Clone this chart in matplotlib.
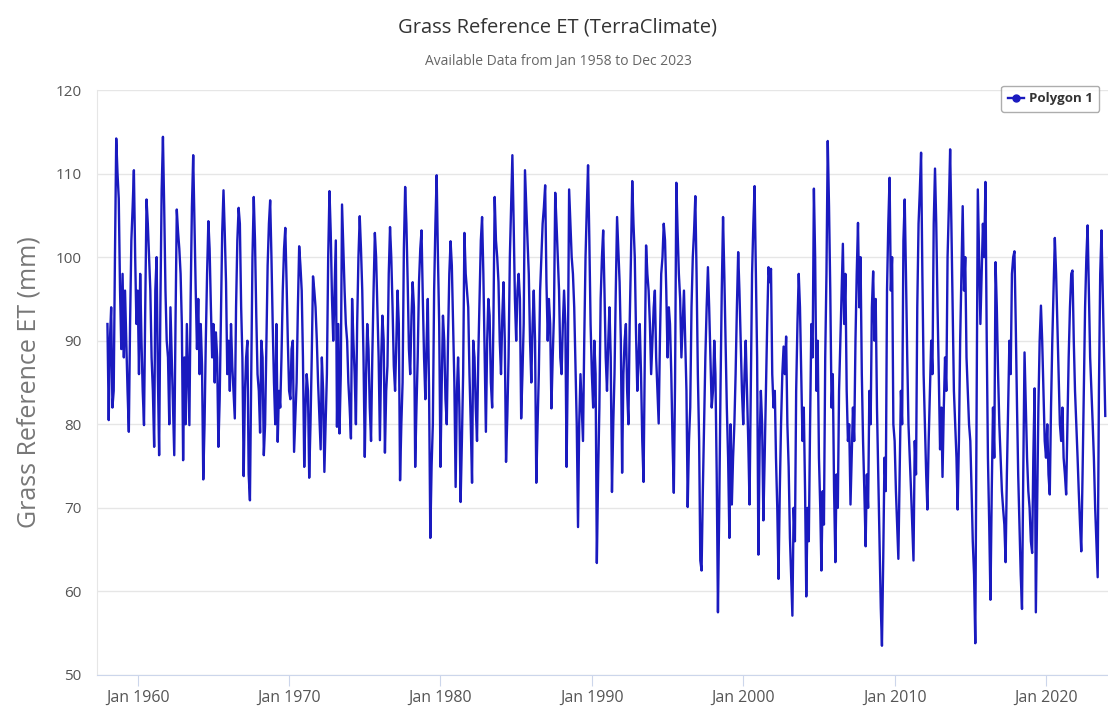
import numpy as np
import pandas as pd
import matplotlib
matplotlib.use('Agg')
import matplotlib.pyplot as plt
import matplotlib.dates as mdates

plt.rcParams['font.family'] = ['Open Sans', 'DejaVu Sans']

# Monthly grass reference ET (mm), Jan..Dec
et_1950s = [
    [92, 80.5, 90, 94, 82, 84, 100, 114.2, 110, 107, 96, 89],
    [98, 88, 96, 90, 84, 79.1, 92, 102, 106, 110.4, 100, 92],
]
et_1960s = [
    [96, 86, 98, 90, 84, 79.9, 94, 106.9, 104, 100, 96, 88],
    [84, 77.3, 96, 100, 86, 76.3, 94, 108, 114.4, 106, 96, 90],
    [88, 80, 94, 88, 82, 76.3, 92, 105.7, 103, 101, 98, 92],
    [75.7, 88, 80, 92, 86, 79.9, 95, 106, 112.2, 104, 96, 89],
    [95, 86, 92, 87, 73.4, 80, 90, 98, 104.3, 101, 94, 88],
    [92, 85, 91, 88, 77.3, 83, 93, 103, 108, 103, 97, 86],
    [90, 84, 92, 87, 84, 80.7, 94, 102, 105.9, 104, 94, 88],
    [73.8, 84, 88, 90, 74, 70.9, 85, 100, 107.2, 102, 93, 86],
    [84, 79, 90, 88, 76.3, 80, 89, 99, 104, 106.8, 100, 92],
    [85, 80, 92, 77.9, 84, 82, 88, 96, 101, 103.5, 97, 90],
]
et_1970s = [
    [84, 83, 89, 90, 76.7, 81, 85, 94, 101.3, 99, 96, 88],
    [74.9, 82, 86, 84, 73.6, 80, 88, 97.7, 96, 94, 90, 85],
    [81, 77, 88, 84, 74.3, 80, 86, 100, 107.9, 103, 95, 90],
    [96, 102, 79.7, 92, 78.9, 86, 106.3, 101, 96, 92, 90, 85],
    [82, 78.3, 95, 90, 86, 80, 92, 100, 104.9, 101, 96, 88],
    [76.1, 86, 92, 89, 82, 78, 88, 96, 102.9, 100, 94, 88],
    [78.1, 88, 93, 90, 76.6, 84, 87, 98, 103.6, 100, 94, 87],
    [84, 90, 96, 92, 73.3, 80, 85, 101, 108.4, 104, 97, 89],
    [86, 93, 97, 94, 74.9, 82, 88, 97, 101, 103.2, 95, 88],
    [83, 90, 95, 84, 66.4, 75, 80, 96, 104, 109.8, 100, 92],
]
et_1980s = [
    [74.9, 85, 93, 90, 83, 80, 90, 98, 101.9, 99, 92, 85],
    [72.5, 84, 88, 82, 70.7, 78, 86, 102.9, 98, 96, 94, 86],
    [80, 73, 90, 88, 82, 78, 88, 95, 102, 104.8, 98, 89],
    [79.1, 90, 95, 93, 85, 82, 92, 107.2, 102, 100, 97, 90],
    [86, 93, 97, 90, 75.5, 81, 88, 100, 106, 112.2, 104, 95],
    [90, 96, 98, 95, 80.7, 86, 92, 110.4, 106, 102, 98, 90],
    [85, 92, 96, 90, 73, 80, 86, 96, 100, 104, 106, 108.6],
    [97, 90, 95, 92, 81.9, 88, 93, 107.7, 104, 100, 96, 88],
    [86, 92, 96, 92, 74.9, 88, 108.1, 104, 100, 98, 94, 87],
    [80, 67.7, 80, 86, 82, 78, 90, 100, 106, 111, 102, 92],
]
et_1990s = [
    [86, 82, 90, 86, 63.4, 74, 82, 95, 100, 103.2, 96, 88],
    [84, 90, 94, 88, 71.9, 80, 86, 96, 104.8, 101, 97, 90],
    [74.2, 86, 90, 92, 84, 80, 92, 100, 109.1, 104, 100, 91],
    [84, 88, 92, 86, 78, 73.1, 88, 101.4, 98, 96, 92, 86],
    [90, 94, 96, 88, 84, 80.1, 90, 98, 100, 104, 102, 96],
    [88, 94, 92, 86, 78, 71.8, 85, 108.9, 103, 98, 95, 88],
    [92, 96, 90, 84, 70.1, 78, 82, 94, 100, 103, 107.3, 98],
    [86, 78, 63.7, 62.5, 72, 80, 88, 94, 98.8, 94, 88, 82],
    [84, 90, 86, 74, 57.5, 70, 84, 96, 104.8, 98, 90, 82],
    [76, 66.4, 80, 70.4, 76, 80, 86, 94, 100.6, 96, 90, 84],
]
et_2000s = [
    [80, 86, 90, 84, 78, 70.4, 84, 98, 104, 108.5, 98, 88],
    [64.4, 78, 84, 80, 68.5, 76, 84, 92, 98.8, 97, 98.6, 86],
    [82, 84, 76, 70, 61.5, 72, 80, 86, 89.3, 86, 90.5, 80],
    [74.9, 66.4, 62, 57.1, 70, 66, 84, 92, 98, 94, 86, 78],
    [82, 72, 59.4, 70, 66, 80, 92, 88, 108.2, 100, 84, 90],
    [76, 70, 62.5, 72, 68, 88, 98, 113.9, 106, 96, 82, 86],
    [72, 63.5, 74, 70, 84, 90, 96, 101.6, 92, 98, 84, 78],
    [80, 70.4, 76, 82, 78, 90, 98, 104.1, 94, 100, 86, 78],
    [72, 65.4, 74, 70, 84, 80, 94, 98.3, 90, 95, 82, 74],
    [66, 58, 53.5, 64, 76, 72, 96, 104, 109.5, 96, 100, 80],
]
et_2010s = [
    [78, 72, 68, 63.9, 74, 84, 80, 102, 106.9, 98, 88, 80],
    [76, 72, 68, 63.7, 78, 74, 94, 104, 108, 112.5, 98, 86],
    [80, 74, 69.8, 78, 84, 90, 86, 104, 110.6, 104, 94, 86],
    [77, 82, 73.7, 82, 88, 84, 100, 106, 112.9, 104, 94, 84],
    [80, 76, 69.8, 78, 90, 98, 106.1, 96, 100, 88, 84, 80],
    [78, 72, 66, 62, 53.8, 82, 108.1, 100, 92, 98, 104, 100],
    [109, 90, 76, 68, 59, 72, 82, 76, 99.4, 94, 86, 80],
    [76, 72, 70, 68, 63.5, 74, 82, 90, 86, 98, 100, 100.7],
    [92, 82, 74, 68, 62, 57.9, 74, 88.6, 82, 76, 72, 70],
    [66, 64.6, 76, 84.3, 57.5, 70, 82, 90, 94.2, 90, 84, 78],
]
et_2020s = [
    [76, 80, 74, 71.6, 82, 90, 96, 102.3, 98, 92, 86, 80],
    [78, 82, 76, 74, 71.6, 80, 88, 94, 98, 98.4, 90, 84],
    [80, 76, 72, 68, 64.8, 74, 84, 94, 100, 103.8, 96, 88],
    [84, 80, 76, 70, 66, 61.7, 84, 98, 103.2, 96, 88, 81],
]

decades = [et_1950s, et_1960s, et_1970s, et_1980s, et_1990s, et_2000s, et_2010s, et_2020s]
et = np.array([v for d in decades for year in d for v in year])
dates = pd.date_range('1958-01-01', periods=len(et), freq='MS')

tick_years = [1960, 1970, 1980, 1990, 2000, 2010, 2020]

W, H = 1108, 706
fig = plt.figure(figsize=(W / 100, H / 100), dpi=100)
fig.patch.set_facecolor('white')

# plot area runs off the right edge, like the cropped screenshot
left_px, right_px, top_px, bottom_px = 97, 1130, 90, 675
ax = fig.add_axes([left_px / W, (H - bottom_px) / H,
                   (right_px - left_px) / W, (bottom_px - top_px) / H])

# x scale: Jan 1960 at 137.7 px, Jan 2020 at 1046 px
d60 = mdates.date2num(pd.Timestamp('1960-01-01'))
d20 = mdates.date2num(pd.Timestamp('2020-01-01'))
dpp = (d20 - d60) / (1046 - 137.7)
ax.set_xlim(d60 - (137.7 - left_px) * dpp, d60 + (right_px - 137.7) * dpp)
ax.set_ylim(50, 120)

ax.plot(dates, et, color='#1a1abf', lw=1.7, label='Polygon 1', zorder=3)

ax.set_yticks(np.arange(50, 121, 10))
ax.yaxis.grid(True, color='#e6e6e6', lw=1)
ax.set_axisbelow(True)
ax.set_xticks([pd.Timestamp(f'{y}-01-01') for y in tick_years])
ax.set_xticklabels([f'Jan {y}' for y in tick_years])
ax.tick_params(axis='x', length=8, color='#ccd6eb', labelsize=11.5, labelcolor='#555555', pad=3)
ax.tick_params(axis='y', length=0, labelsize=11, labelcolor='#555555', pad=11)

for s in ['top', 'right']:
    ax.spines[s].set_visible(False)
ax.spines['bottom'].set_color('#ccd6eb')
ax.spines['left'].set_color('#e6e6e6')

ax.set_ylabel('Grass Reference ET (mm)', fontsize=18, color='#777777', labelpad=10)

fig.text(558 / W, 1 - 28 / H, 'Grass Reference ET (TerraClimate)', ha='center', va='center',
         fontsize=14.5, color='#333333')
fig.text(558 / W, 1 - 62 / H, 'Available Data from Jan 1958 to Dec 2023', ha='center', va='center',
         fontsize=10, color='#666666')

# legend kept just inside the right edge
leg = fig.legend(loc='upper right', bbox_to_anchor=(1106 / W, 1 - 79 / H), frameon=True,
                 fancybox=True, edgecolor='#999999', fontsize=9.5, handlelength=1.2,
                 borderpad=0.5, handletextpad=0.4)
for h in leg.legend_handles:
    h.set_marker('o')
    h.set_markersize(5)
for t in leg.get_texts():
    t.set_fontweight('bold')
    t.set_color('#333333')

fig.savefig('out.png', dpi=100)
